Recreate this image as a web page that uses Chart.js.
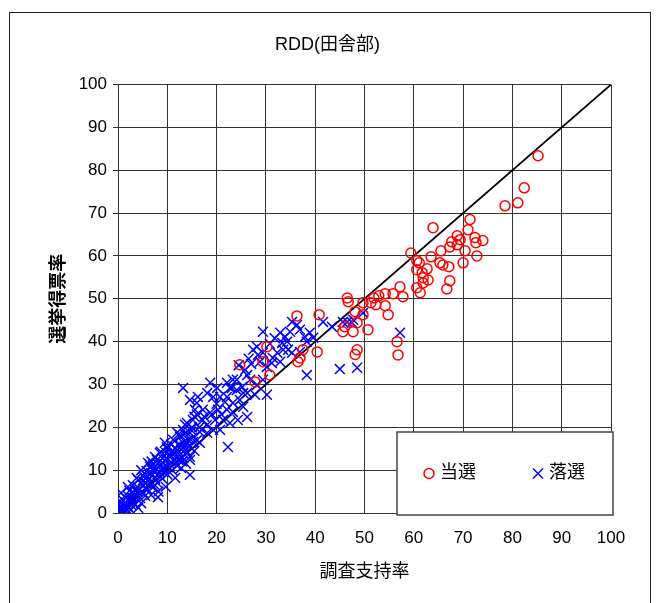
<!DOCTYPE html>
<html>
<head>
<meta charset="utf-8">
<script src="https://cdn.jsdelivr.net/npm/chart.js@4"></script>
<style>
  body { margin: 0; background: #fff; }
  canvas { display: block; }
</style>
</head>
<body>
<canvas id="rddChart" width="660" height="603"></canvas>
<script>
const chartTitle = "RDD(田舎部)";
const xTitle = "調査支持率";
const yTitle = "選挙得票率";
const seriesNames = ["当選", "落選"];

// 当選 (elected)
const winX = [85.2, 82.4, 81.1, 78.5, 71.4, 71.0, 63.9, 59.4, 68.8, 69.4, 67.7, 68.8, 67.3, 72.4, 74.0, 72.6,
  65.5, 70.4, 72.8, 70.0, 63.5, 60.6, 61.1, 65.3, 65.9, 67.1, 60.6, 62.7, 61.7, 61.9, 62.9, 61.9, 67.3, 66.7,
  60.6, 61.3, 57.8, 57.2, 55.8, 54.2, 52.9, 51.9, 51.3, 52.3, 54.2, 54.8, 46.5, 46.7, 49.7, 48.1, 48.5, 48.5,
  48.1, 40.4, 46.0, 45.6, 47.7, 50.7, 49.7, 56.6, 56.8, 36.3, 40.8, 30.2, 24.7, 30.8, 27.8, 29.4, 36.9, 36.5, 37.5];
const winY = [83.4, 75.9, 72.4, 71.7, 68.5, 66.1, 66.6, 60.7, 64.7, 63.8, 63.3, 62.6, 62.1, 64.3, 63.6, 63.1,
  61.2, 61.2, 60.0, 58.4, 59.8, 58.9, 58.4, 58.4, 57.9, 57.5, 56.8, 57.0, 56.1, 54.9, 54.4, 53.7, 54.2, 52.3,
  52.6, 51.4, 50.5, 52.8, 51.2, 51.2, 50.7, 50.2, 49.1, 48.6, 48.4, 46.3, 50.2, 49.3, 49.1, 47.0, 44.4, 38.1,
  37.0, 37.6, 43.5, 42.3, 42.3, 42.8, 46.3, 40.0, 36.9, 46.0, 46.3, 38.8, 34.6, 32.2, 30.6, 35.3, 36.2, 35.3, 38.1];

// 落選 (defeated)
const loseX = [13.6, 14.8, 12.6, 11.2, 14.2, 9.5, 11.6, 13.6, 8.7, 7.5, 10.5, 12.2, 14.6, 6.1, 8.5, 10.1, 12.8,
  14.6, 4.7, 6.7, 8.7, 11.6, 4.1, 5.7, 7.5, 9.7, 2.0, 3.4, 5.1, 6.7, 8.1, 0.6, 1.6, 3.0, 4.7, 0.2, 0.3, 1.0,
  2.6, 0.2, 0.5, 4.1, 1.2, 2.2, 3.5, 2.8, 1.8, 5.5, 6.2, 7.0, 7.8, 9.2, 10.8, 9.0, 11.5, 12.5, 13.0, 10.0,
  5.2, 3.0, 6.5, 8.2, 15.5, 16.0, 15.0, 13.5,
  0.5, 1.0, 1.5, 2.0, 2.5, 3.0, 3.5, 4.0, 4.5, 5.0, 5.5, 6.0, 6.5, 7.0, 7.5, 8.0, 8.5, 9.0, 9.5, 10.0, 10.5,
  11.0, 11.5, 12.0, 12.5, 13.0, 13.5, 14.0, 11.0, 10.0, 9.0, 8.0, 7.0, 6.0, 5.0, 4.0, 3.0, 2.0, 1.0, 0.3, 1.3,
  6.8, 5.8, 9.8, 12.0, 10.8, 11.8, 13.8, 15.0, 16.5, 17.5, 18.0, 19.0, 20.0, 21.0, 17.0, 16.0, 15.5, 14.5,
  12.8, 3.8, 2.3,
  18.7, 20.1, 22.1, 23.1, 24.1, 25.2, 26.2, 24.7, 23.3, 21.7, 20.7, 19.3, 18.1, 16.2, 16.0, 14.6, 15.6, 17.2,
  18.7, 20.3, 22.1, 23.3, 25.4, 26.2, 24.3, 22.7, 21.3, 19.7, 17.2, 15.2, 14.0, 13.2, 14.6, 16.6, 18.1, 19.3,
  20.7, 12.6, 13.2, 15.2, 16.6, 9.9, 12.0, 14.0, 8.5, 10.5, 12.6, 7.9, 9.1, 14.6, 7.1, 13.2, 22.3,
  35.3, 36.3, 36.9, 34.9, 32.9, 33.9, 34.3, 37.9, 38.3, 38.9, 39.6, 33.3, 33.5, 34.5, 35.3, 36.9, 32.3, 31.4,
  32.9, 28.2, 27.4, 28.4, 29.4, 28.8, 30.2, 31.2, 38.3, 25.8, 26.2, 26.8, 29.4, 28.2, 23.3, 22.7, 24.1, 22.1,
  25.4, 30.2, 27.8, 29.4, 41.6, 43.4, 45.6, 46.5, 47.5, 47.7, 49.7, 57.2, 45.0, 48.5, 24.5, 27.0, 30.8, 31.8, 26.5];
const loseY = [20.6, 19.4, 18.2, 17.1, 17.1, 16.4, 15.2, 14.7, 14.3, 13.1, 13.6, 12.4, 12.4, 11.7, 11.2, 10.7, 10.5,
  8.9, 10.0, 9.3, 8.4, 8.2, 7.7, 7.0, 6.5, 6.1, 6.1, 5.4, 4.7, 4.2, 3.7, 4.7, 3.5, 2.6, 2.3, 2.6, 1.4, 1.2,
  0.7, 0.3, 0.2, 1.2, 2.0, 3.0, 4.0, 1.8, 0.8, 5.8, 7.8, 8.9, 10.2, 9.5, 11.9, 12.8, 14.0, 16.0, 13.0, 15.0,
  8.5, 6.5, 10.8, 5.0, 14.5, 17.0, 20.0, 18.5,
  1.5, 0.5, 2.5, 1.5, 3.5, 4.5, 2.0, 5.0, 3.5, 6.5, 4.0, 5.5, 7.0, 6.0, 8.0, 7.0, 9.5, 8.0, 10.5, 9.0, 11.5,
  10.0, 12.5, 11.0, 13.5, 12.0, 15.5, 16.5, 14.5, 12.5, 10.5, 11.5, 10.0, 8.5, 7.5, 6.0, 3.5, 4.0, 3.0, 0.8, 0.3,
  12.0, 9.8, 14.0, 18.8, 16.0, 13.0, 11.5, 17.5, 20.0, 22.5, 20.5, 23.0, 25.5, 23.0, 19.5, 23.0, 22.5, 15.5,
  14.8, 8.2, 5.2,
  30.4, 29.2, 30.4, 29.2, 31.1, 29.4, 28.0, 26.4, 25.7, 25.9, 27.1, 27.1, 28.0, 27.1, 25.7, 26.4, 24.1, 24.1,
  23.4, 24.1, 24.1, 23.6, 24.8, 22.4, 21.7, 21.0, 21.7, 21.7, 21.7, 21.7, 21.0, 19.4, 18.7, 18.9, 18.7, 19.4,
  19.4, 17.8, 16.4, 16.6, 16.4, 15.4, 14.7, 14.3, 14.0, 13.1, 12.4, 12.4, 11.7, 13.1, 11.2, 29.2, 15.4,
  44.6, 43.9, 42.8, 42.3, 42.1, 41.1, 40.0, 41.1, 40.0, 42.1, 40.9, 39.7, 38.1, 38.1, 37.4, 37.6, 37.4, 36.2,
  35.3, 38.8, 38.1, 36.9, 37.4, 35.3, 34.1, 35.0, 32.2, 33.4, 32.2, 31.1, 31.1, 29.9, 31.1, 29.2, 28.7, 27.1,
  28.0, 27.6, 27.6, 42.3, 44.6, 43.5, 44.6, 44.6, 44.4, 45.1, 46.7, 42.1, 33.6, 33.9, 34.5, 34.8, 39.5, 40.8, 36.0];

const refLine = [0, 100];
const tickMin = 0, tickMax = 100, tickStep = 10;

const font = '"Liberation Sans", "Noto Sans CJK JP", sans-serif';

const toPoints = (xs, ys) => xs.map((x, i) => ({ x: x, y: ys[i] }));

// outer frame round the whole chart
const framePlugin = {
  id: "frame",
  beforeDraw(chart) {
    const c = chart.ctx;
    c.save();
    c.strokeStyle = "#222";
    c.lineWidth = 1;
    c.strokeRect(9.5, 12.5, 641, 620);
    c.restore();
  }
};

// boxed legend in the lower right of the plot
const boxLegend = {
  id: "boxLegend",
  afterDatasetsDraw(chart) {
    const c = chart.ctx;
    const x0 = 397, y0 = 432, w = 216, h = 83;
    c.save();
    c.fillStyle = "#fff";
    c.fillRect(x0, y0, w, h);
    c.strokeStyle = "#444";
    c.lineWidth = 1.5;
    c.strokeRect(x0, y0, w, h);
    const cy = y0 + h / 2;
    c.lineWidth = 1.5;
    c.strokeStyle = "#ff0000";
    c.beginPath();
    c.arc(x0 + 32, cy, 5, 0, Math.PI * 2);
    c.stroke();
    c.strokeStyle = "#0000ff";
    c.beginPath();
    c.moveTo(x0 + 136, cy - 5); c.lineTo(x0 + 146, cy + 5);
    c.moveTo(x0 + 146, cy - 5); c.lineTo(x0 + 136, cy + 5);
    c.stroke();
    c.fillStyle = "#000";
    c.font = "18px " + font;
    c.textBaseline = "middle";
    c.fillText(seriesNames[0], x0 + 43, cy);
    c.fillText(seriesNames[1], x0 + 152, cy);
    c.restore();
  }
};

new Chart(document.getElementById("rddChart"), {
  type: "scatter",
  data: {
    datasets: [
      {
        label: seriesNames[0],
        data: toPoints(winX, winY),
        pointStyle: "circle",
        pointRadius: 5,
        borderColor: "#ff0000",
        backgroundColor: "rgba(0,0,0,0)",
        borderWidth: 1.5
      },
      {
        label: seriesNames[1],
        data: toPoints(loseX, loseY),
        pointStyle: "crossRot",
        pointRadius: 7,
        borderColor: "#0000ff",
        backgroundColor: "#0000ff",
        borderWidth: 1.5
      },
      {
        type: "line",
        label: "y=x",
        data: toPoints(refLine, refLine),
        borderColor: "#000",
        borderWidth: 1.8,
        pointRadius: 0,
        fill: false
      }
    ]
  },
  options: {
    responsive: false,
    animation: false,
    devicePixelRatio: 1,
    layout: { padding: { left: 44, right: 49, top: 24, bottom: 16 } },
    plugins: {
      legend: { display: false },
      tooltip: { enabled: false },
      title: {
        display: true,
        text: chartTitle,
        color: "#000",
        font: { family: font, size: 18, weight: "normal" },
        padding: { top: 10, bottom: 29 }
      }
    },
    scales: {
      x: {
        type: "linear",
        min: tickMin,
        max: tickMax,
        ticks: { stepSize: tickStep, color: "#000", font: { family: font, size: 17 }, padding: 15, maxRotation: 0 },
        grid: { color: "#333", lineWidth: 1, drawTicks: false },
        border: { color: "#333", width: 1 },
        title: { display: true, text: xTitle, color: "#000", font: { family: font, size: 18 }, padding: 4 },
        afterFit(scale) { scale.height = 74; }
      },
      y: {
        type: "linear",
        min: tickMin,
        max: tickMax,
        ticks: { stepSize: tickStep, color: "#000", font: { family: font, size: 17 }, padding: 6 },
        grid: { color: "#333", lineWidth: 1, tickLength: 5 },
        border: { color: "#333", width: 1 },
        title: { display: true, text: yTitle, color: "#000", font: { family: font, size: 18, weight: "bold" }, padding: 4 },
        afterFit(scale) { scale.width = 74; }
      }
    }
  },
  plugins: [framePlugin, boxLegend]
});
</script>
</body>
</html>
